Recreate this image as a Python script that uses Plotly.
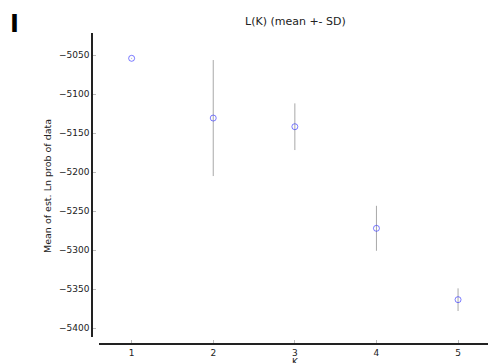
import plotly.graph_objects as go

K = [1, 2, 3, 4, 5]
mean_lnp = [-5054.2, -5130.7, -5141.8, -5271.9, -5363.3]
sd_lnp = [0.5, 74.3, 29.9, 28.8, 14.5]
y_ticks = [-5050, -5100, -5150, -5200, -5250, -5300, -5350, -5400]
x_ticks = [1, 2, 3, 4, 5]

W, H = 488, 363
def px(x):
    return x / W
def py(y):
    return 1 - y / H

fig = go.Figure()
fig.add_trace(go.Scatter(
    x=K, y=mean_lnp, mode="markers",
    marker=dict(symbol="circle-open", size=6, color="rgba(40,40,255,0.6)",
                line=dict(width=1, color="rgba(40,40,255,0.6)")),
    error_y=dict(type="data", array=sd_lnp, visible=True, color="#a8a8a8",
                 thickness=1, width=0),
    showlegend=False,
))

fig.update_layout(
    width=W, height=H,
    margin=dict(l=0, r=0, t=0, b=0),
    paper_bgcolor="white", plot_bgcolor="white",
    font=dict(family="DejaVu Sans", size=9, color="#222222"),
    xaxis=dict(domain=[px(99), 1.0], range=[0.6, 5.367], anchor="free",
               position=py(344), tickvals=x_ticks, ticktext=[str(v) for v in x_ticks],
               showgrid=False, zeroline=False, showline=True, linecolor="#222222",
               linewidth=1.5, ticks="inside", ticklen=3, tickcolor="#bbbbbb",
               tickfont=dict(size=9), automargin=False),
    yaxis=dict(domain=[py(337), py(33)], range=[-5411.1, -5021.8], anchor="free",
               position=px(92), tickvals=y_ticks,
               ticktext=["\u2212" + str(abs(v)) for v in y_ticks],
               showgrid=False, zeroline=False, showline=True, linecolor="#222222",
               linewidth=1.5, ticks="inside", ticklen=3, tickcolor="#bbbbbb",
               tickfont=dict(size=9), automargin=False),
    annotations=[
        dict(text="L(K) (mean +- SD)", x=px(295), y=py(22), xref="paper", yref="paper",
             showarrow=False, xanchor="center", yanchor="middle",
             font=dict(family="DejaVu Sans", size=11, color="#222222")),
        dict(text="Mean of est. Ln prob of data", x=px(48), y=py(186), xref="paper",
             yref="paper", showarrow=False, textangle=-90, xanchor="center",
             yanchor="middle", font=dict(family="DejaVu Sans", size=9.5, color="#222222")),
        dict(text="K", x=px(295), y=py(355), xref="paper", yref="paper",
             showarrow=False, xanchor="center", yanchor="top",
             font=dict(family="DejaVu Sans", size=9, color="#222222")),
        dict(text="<b>I</b>", x=px(14), y=py(24), xref="paper", yref="paper",
             showarrow=False, xanchor="center", yanchor="middle",
             font=dict(family="DejaVu Sans", size=24, color="#000000")),
    ],
)

fig.write_html("out.html", config={"displayModeBar": False},
               post_script="document.body.style.margin='0';document.body.style.padding='0';")
